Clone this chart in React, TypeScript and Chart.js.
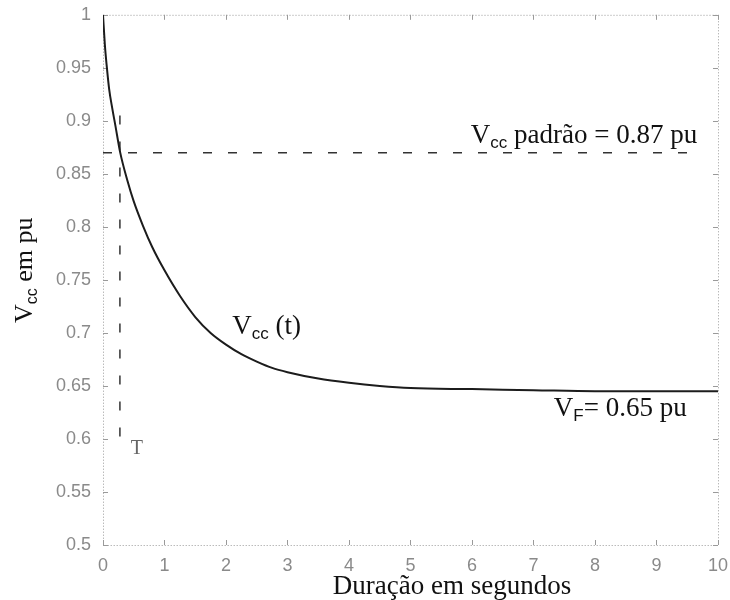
import React, { useEffect, useRef } from "react";
import { Chart, registerables } from "chart.js";

Chart.register(...registerables);

// ---- data ----
const timeSec = [0, 0.03, 0.06, 0.1, 0.15, 0.2, 0.28, 0.4, 0.5, 0.65, 0.8, 1.0, 1.25, 1.5, 1.75, 2.0, 2.25, 2.5, 2.75, 3.0, 3.5, 4.0, 4.5, 5.0, 6.0, 7.0, 8.0, 9.0, 10.0];
const vccPu = [1.0, 0.972, 0.952, 0.93, 0.912, 0.896, 0.87, 0.843, 0.824, 0.801, 0.781, 0.759, 0.735, 0.715, 0.7, 0.689, 0.68, 0.673, 0.667, 0.663, 0.657, 0.653, 0.65, 0.648, 0.647, 0.646, 0.645, 0.645, 0.645];

const xTickValues = [0, 1, 2, 3, 4, 5, 6, 7, 8, 9, 10];
const yTickValues = [0.5, 0.55, 0.6, 0.65, 0.7, 0.75, 0.8, 0.85, 0.9, 0.95, 1];
const yTickLabels = ["0.5", "0.55", "0.6", "0.65", "0.7", "0.75", "0.8", "0.85", "0.9", "0.95", "1"];

const vccStandard = 0.87; // "Vcc padrão"
const standardLineEnd = 9.7;
const tCross = 0.275; // time where Vcc(t) crosses 0.87 pu
const crossLineTop = 0.905;
const crossLineBottom = 0.6;

const serif = '"Liberation Serif", "Times New Roman", serif';
const sans = '"Liberation Sans", Arial, sans-serif';

type Run = { text: string; sub?: boolean };

function drawRuns(ctx: CanvasRenderingContext2D, x: number, y: number, runs: Run[], size = 27) {
  let cx = x;
  for (const r of runs) {
    if (r.sub) {
      ctx.font = `${Math.round(size * 0.62)}px ${sans}`;
      ctx.fillText(r.text, cx, y + 5);
    } else {
      ctx.font = `${size}px ${serif}`;
      ctx.fillText(r.text, cx, y);
    }
    cx += ctx.measureText(r.text).width;
  }
  return cx - x;
}

const framePlugin = {
  id: "frame",
  beforeDatasetsDraw(chart: any) {
    const { ctx, chartArea: a, scales } = chart;
    ctx.save();
    ctx.strokeStyle = "#9a9a9a";
    ctx.lineWidth = 1;
    ctx.setLineDash([1, 2]);
    ctx.strokeRect(a.left + 0.5, a.top + 0.5, a.right - a.left, a.bottom - a.top);
    ctx.setLineDash([]);
    ctx.beginPath();
    for (const v of xTickValues) {
      const px = Math.round(scales.x.getPixelForValue(v)) + 0.5;
      ctx.moveTo(px, a.bottom);
      ctx.lineTo(px, a.bottom - 5);
      ctx.moveTo(px, a.top);
      ctx.lineTo(px, a.top + 5);
    }
    for (const v of yTickValues) {
      const py = Math.round(scales.y.getPixelForValue(v)) + 0.5;
      ctx.moveTo(a.left, py);
      ctx.lineTo(a.left + 5, py);
      ctx.moveTo(a.right, py);
      ctx.lineTo(a.right - 5, py);
    }
    ctx.stroke();
    ctx.restore();
  },
};

const annotationPlugin = {
  id: "annotations",
  afterDraw(chart: any) {
    const { ctx, scales } = chart;
    const X = (v: number) => scales.x.getPixelForValue(v);
    const Y = (v: number) => scales.y.getPixelForValue(v);
    ctx.save();
    ctx.fillStyle = "#111";
    ctx.textBaseline = "alphabetic";
    ctx.textAlign = "left";
    drawRuns(ctx, X(5.98), Y(0.879), [{ text: "V" }, { text: "cc", sub: true }, { text: " padrão = 0.87 pu" }]);
    drawRuns(ctx, X(2.1), Y(0.699), [{ text: "V" }, { text: "cc", sub: true }, { text: " (t)" }]);
    drawRuns(ctx, X(7.33), Y(0.622), [{ text: "V" }, { text: "F", sub: true }, { text: "= 0.65 pu" }]);

    // small "T" mark below the vertical dashed line
    ctx.fillStyle = "#666";
    ctx.textAlign = "center";
    ctx.textBaseline = "top";
    ctx.font = `20px ${serif}`;
    ctx.fillText("T", X(0.55), Y(0.6));

    // axis titles
    ctx.fillStyle = "#111";
    ctx.textBaseline = "alphabetic";
    ctx.textAlign = "center";
    ctx.font = `27px ${serif}`;
    ctx.fillText("Duração em segundos", 452, 594);

    ctx.translate(32, 323);
    ctx.rotate(-Math.PI / 2);
    ctx.textAlign = "left";
    drawRuns(ctx, 0, 0, [{ text: "V" }, { text: "cc", sub: true }, { text: " em pu" }], 26);
    ctx.restore();
  },
};

export default function App() {
  const canvasRef = useRef<HTMLCanvasElement | null>(null);

  useEffect(() => {
    const canvas = canvasRef.current;
    if (!canvas) return;
    const chart = new Chart(canvas, {
      type: "line",
      data: {
        datasets: [
          {
            data: timeSec.map((t, i) => ({ x: t, y: vccPu[i] })),
            borderColor: "#1c1c1c",
            borderWidth: 2,
            pointRadius: 0,
            cubicInterpolationMode: "monotone",
            fill: false,
          },
          {
            data: [
              { x: 0, y: vccStandard },
              { x: standardLineEnd, y: vccStandard },
            ],
            borderColor: "#333",
            borderWidth: 1.5,
            borderDash: [9, 16],
            pointRadius: 0,
            fill: false,
          },
          {
            data: [
              { x: tCross, y: crossLineTop },
              { x: tCross, y: crossLineBottom },
            ],
            borderColor: "#333",
            borderWidth: 1.5,
            borderDash: [9, 17],
            pointRadius: 0,
            fill: false,
          },
        ],
      },
      options: {
        animation: false,
        responsive: false,
        maintainAspectRatio: false,
        layout: { padding: { left: 0, top: 12, right: 10, bottom: 0 } },
        plugins: { legend: { display: false }, tooltip: { enabled: false } },
        scales: {
          x: {
            type: "linear",
            min: 0,
            max: 10,
            afterBuildTicks: (s: any) => {
              s.ticks = xTickValues.map((v) => ({ value: v }));
            },
            afterFit: (s: any) => {
              s.height = 55;
            },
            grid: { display: false },
            border: { display: false },
            ticks: {
              autoSkip: false,
              maxRotation: 0,
              padding: 2,
              color: "#8a8a8a",
              font: { family: sans, size: 18 },
              callback: (v: any) => String(v),
            },
          },
          y: {
            type: "linear",
            min: 0.5,
            max: 1,
            afterBuildTicks: (s: any) => {
              s.ticks = yTickValues.map((v) => ({ value: v }));
            },
            afterFit: (s: any) => {
              s.width = 103;
            },
            grid: { display: false },
            border: { display: false },
            ticks: {
              autoSkip: false,
              padding: 4,
              color: "#8a8a8a",
              font: { family: sans, size: 18 },
              callback: (v: any) => {
                const i = yTickValues.findIndex((t) => Math.abs(t - Number(v)) < 1e-6);
                return i >= 0 ? yTickLabels[i] : "";
              },
            },
          },
        },
      },
      plugins: [framePlugin, annotationPlugin],
    } as any);
    return () => chart.destroy();
  }, []);

  return (
    <div style={{ position: "absolute", left: 0, top: 0, width: 730, height: 600, background: "#fff" }}>
      <canvas ref={canvasRef} width={730} height={600} style={{ display: "block" }} />
    </div>
  );
}
